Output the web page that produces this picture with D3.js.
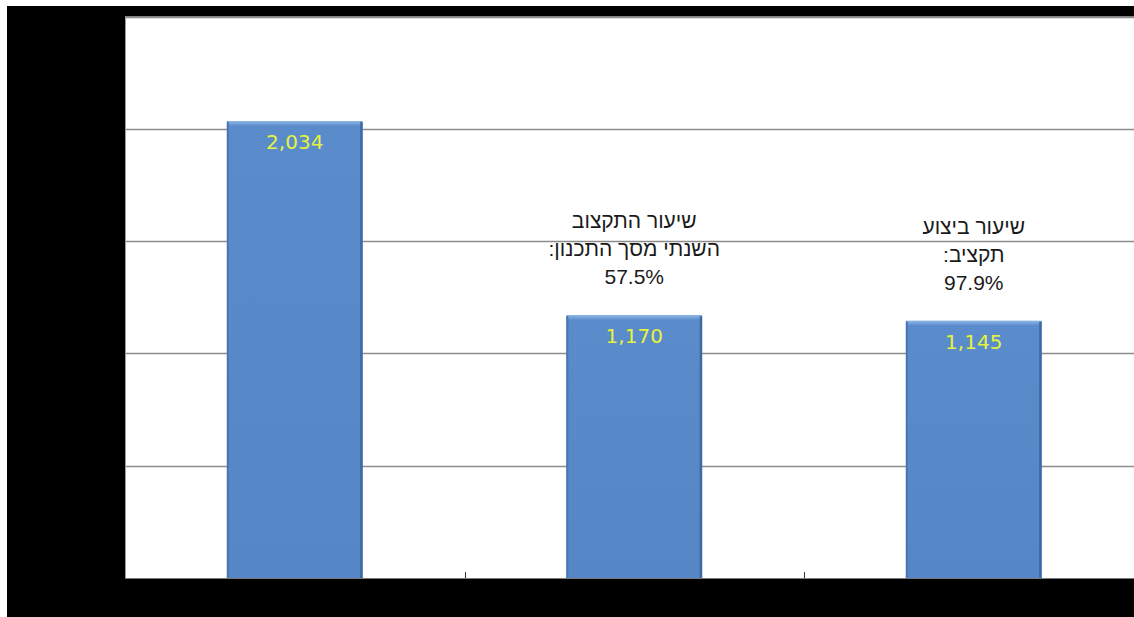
<!DOCTYPE html>
<html lang="he">
<head>
<meta charset="utf-8">
<script src="https://cdn.jsdelivr.net/npm/d3@7/dist/d3.min.js"></script>
<style>
  html, body { margin: 0; padding: 0; background: #ffffff; }
  svg { display: block; }
</style>
</head>
<body>
<svg id="chart" width="1134" height="617"></svg>
<script>
// Budget bars: planned total, annual allocation, actual execution
const categories = ["סך התכנון", "התקצוב השנתי", "ביצוע"];
const values = [2034, 1170, 1145];
const valueLabels = ["2,034", "1,170", "1,145"];
// Rate notes shown above the second and third bars
const notes = [
  null,
  ["שיעור התקצוב", "השנתי מסך התכנון:", "57.5%"],
  ["שיעור ביצוע", "תקציב:", "97.9%"]
];
const yTicks = [500, 1000, 1500, 2000, 2500];

const svg = d3.select("#chart");
const W = 1134, H = 617;

// Frame
svg.append("rect").attr("x", 7).attr("y", 6).attr("width", W - 7).attr("height", H - 6).attr("fill", "#000");

const plot = { left: 125, top: 16.5, right: 1143.5, bottom: 578 };
svg.append("rect")
  .attr("x", plot.left).attr("y", plot.top)
  .attr("width", W - plot.left).attr("height", plot.bottom - plot.top)
  .attr("fill", "#fff");

const x = d3.scaleBand()
  .domain(categories)
  .range([plot.left, plot.right])
  .paddingInner(0.6)
  .paddingOuter(0.3);

const y = d3.scaleLinear().domain([0, 2500]).range([plot.bottom, plot.top]);

// Gradients for bevelled bars
const defs = svg.append("defs");
const g1 = defs.append("linearGradient").attr("id", "barFill").attr("x1", 0).attr("x2", 0).attr("y1", 0).attr("y2", 1);
g1.append("stop").attr("offset", "0%").attr("stop-color", "#5a8bcb");
g1.append("stop").attr("offset", "100%").attr("stop-color", "#5587c7");
const gh = defs.append("linearGradient").attr("id", "topBevel").attr("x1", 0).attr("x2", 0).attr("y1", 0).attr("y2", 1);
gh.append("stop").attr("offset", "0%").attr("stop-color", "#8fb5e6");
gh.append("stop").attr("offset", "100%").attr("stop-color", "#5a8bcb");

// Gridlines
svg.append("g")
  .selectAll("line")
  .data(yTicks)
  .join("line")
  .attr("x1", plot.left).attr("x2", W)
  .attr("y1", d => Math.round(y(d)) + 0.5).attr("y2", d => Math.round(y(d)) + 0.5)
  .attr("stroke", "#8c8c8c").attr("stroke-width", 1.3);

// Vertical axis line
svg.append("line")
  .attr("x1", plot.left + 0.5).attr("x2", plot.left + 0.5)
  .attr("y1", plot.top).attr("y2", plot.bottom)
  .attr("stroke", "#9a9a9a").attr("stroke-width", 1);

// Bars
const bars = svg.append("g").selectAll("g").data(values).join("g");
bars.append("rect")
  .attr("x", (d, i) => x(categories[i]))
  .attr("y", d => y(d))
  .attr("width", x.bandwidth())
  .attr("height", d => plot.bottom - y(d))
  .attr("fill", "url(#barFill)");
// top bevel
bars.append("rect")
  .attr("x", (d, i) => x(categories[i]) + 1)
  .attr("y", d => y(d))
  .attr("width", x.bandwidth() - 2)
  .attr("height", 5)
  .attr("fill", "url(#topBevel)");
// side edges
bars.append("rect")
  .attr("x", (d, i) => x(categories[i]))
  .attr("y", d => y(d) + 1)
  .attr("width", 2)
  .attr("height", d => plot.bottom - y(d) - 1)
  .attr("fill", "#4a76b0");
bars.append("rect")
  .attr("x", (d, i) => x(categories[i]) + x.bandwidth() - 2.5)
  .attr("y", d => y(d) + 1)
  .attr("width", 2.5)
  .attr("height", d => plot.bottom - y(d) - 1)
  .attr("fill", "#3f6aa3");

// Value labels inside bars
bars.append("text")
  .attr("x", (d, i) => x(categories[i]) + x.bandwidth() / 2)
  .attr("y", d => y(d) + 28)
  .attr("text-anchor", "middle")
  .attr("font-family", "'DejaVu Sans', sans-serif")
  .attr("font-size", 20)
  .attr("fill", "#e6f23e")
  .text((d, i) => valueLabels[i]);

// Category axis line and tick marks between categories
svg.append("line")
  .attr("x1", plot.left).attr("x2", W)
  .attr("y1", plot.bottom + 0.5).attr("y2", plot.bottom + 0.5)
  .attr("stroke", "#7a7a7a").attr("stroke-width", 1.2);
const boundaries = categories.slice(1).map(c => x(c) - x.step() * x.paddingInner() / 2);
svg.append("g").selectAll("line").data(boundaries).join("line")
  .attr("x1", d => Math.round(d) + 0.5).attr("x2", d => Math.round(d) + 0.5)
  .attr("y1", plot.bottom - 6).attr("y2", plot.bottom)
  .attr("stroke", "#333").attr("stroke-width", 1);

// Rate notes above bars
notes.forEach((lines, i) => {
  if (!lines) return;
  const cx = x(categories[i]) + x.bandwidth() / 2;
  const baseY = y(values[i]) - 31;
  const t = svg.append("text")
    .attr("text-anchor", "middle")
    .attr("direction", "rtl")
    .attr("font-family", "'Liberation Sans', Arial, sans-serif")
    .attr("font-size", 21)
    .attr("fill", "#1a1a1a");
  lines.forEach((ln, j) => {
    t.append("tspan")
      .attr("x", cx)
      .attr("y", baseY - (lines.length - 1 - j) * 28)
      .text(ln);
  });
});
</script>
</body>
</html>
